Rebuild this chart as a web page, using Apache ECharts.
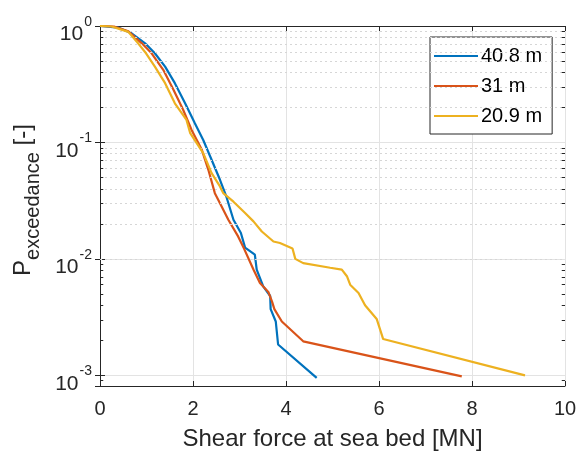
<!DOCTYPE html>
<html>
<head>
<meta charset="utf-8">
<script src="https://cdn.jsdelivr.net/npm/echarts@6/dist/echarts.min.js"></script>
<style>
  html, body { margin: 0; padding: 0; background: #fff; }
  #chart { width: 579px; height: 455px; }
</style>
</head>
<body>
<div id="chart"></div>
<script>
// ====== 海床剪力超越概率（三个水深） ======
const seriesNames = ["40.8 m", "31 m", "20.9 m"];
const seriesColors = ["#0072BD", "#D95319", "#EDB120"];

// [剪力 MN, 超越概率]
const blue408 = [
  [0, 1], [0.39, 0.97], [0.68, 0.865], [0.97, 0.71], [1.18, 0.583], [1.4, 0.448],
  [1.61, 0.323], [1.83, 0.217], [2.04, 0.146], [2.22, 0.105], [2.37, 0.0758],
  [2.58, 0.0478], [2.72, 0.034], [2.87, 0.0217], [3.03, 0.0167], [3.12, 0.0125],
  [3.33, 0.0109], [3.37, 0.0081], [3.51, 0.0058], [3.66, 0.0048], [3.67, 0.0037],
  [3.78, 0.0029], [3.83, 0.00184], [4.66, 0.00095]
];
const red31 = [
  [0, 1], [0.3, 0.99], [0.61, 0.9], [0.9, 0.71], [1.11, 0.583], [1.36, 0.42],
  [1.58, 0.283], [1.79, 0.19], [1.97, 0.128], [2.19, 0.0864], [2.33, 0.0582],
  [2.47, 0.0367], [2.58, 0.03], [2.76, 0.0217], [2.97, 0.0156], [3.1, 0.0122],
  [3.3, 0.0081], [3.44, 0.0062], [3.62, 0.0052], [3.7, 0.0043], [3.75, 0.0037],
  [3.91, 0.0029], [4.37, 0.00196], [7.78, 0.00098]
];
const yellow209 = [
  [0, 1], [0.25, 0.99], [0.61, 0.89], [0.82, 0.71], [0.99, 0.583], [1.18, 0.448],
  [1.4, 0.323], [1.61, 0.217], [1.86, 0.156], [1.94, 0.12], [2.08, 0.0986],
  [2.22, 0.081], [2.4, 0.0546], [2.58, 0.0419], [2.65, 0.0367], [2.87, 0.031],
  [3.12, 0.0248], [3.3, 0.021], [3.48, 0.0172], [3.73, 0.0141], [3.87, 0.0137],
  [4.14, 0.0123], [4.2, 0.01], [4.37, 0.0092], [4.95, 0.0084], [5.2, 0.0081],
  [5.31, 0.0071], [5.38, 0.006], [5.56, 0.0051], [5.7, 0.004], [5.95, 0.00305],
  [6.09, 0.00205], [9.14, 0.001]
];
const seriesData = [blue408, red31, yellow209];

const xTicks = { min: 0, max: 10, interval: 2 };
const yRange = { min: 0.00081, max: 1 };
// 对数轴次网格线 2..9 × 10^n
const minorYValues = [
  0.0009,
  0.002, 0.003, 0.004, 0.005, 0.006, 0.007, 0.008, 0.009,
  0.02, 0.03, 0.04, 0.05, 0.06, 0.07, 0.08, 0.09,
  0.2, 0.3, 0.4, 0.5, 0.6, 0.7, 0.8, 0.9,
];

const axisColor = "#262626";
const font = "Liberation Sans, Arial, sans-serif";

const yLabel = (v) => {
  const lg = Math.log10(v);
  const e = Math.round(lg);
  if (Math.abs(lg - e) > 1e-6) return "";
  return `{b|10}{s|${e}}`;
};

const gridLine = { show: true, lineStyle: { color: "#e3e3e3", width: 1 } };

// 次网格虚线 + 左右两侧的小刻度
const minorMarks = [];
minorYValues.forEach((v) => {
  minorMarks.push({ yAxis: v, lineStyle: { color: "#d6d6d6", width: 1, type: [2, 3] } });
  minorMarks.push([{ coord: [xTicks.min, v] }, { coord: [xTicks.min + 0.07, v] }]);
  minorMarks.push([{ coord: [xTicks.max - 0.07, v] }, { coord: [xTicks.max, v] }]);
});

const option = {
  animation: false,
  backgroundColor: "#fff",
  textStyle: { fontFamily: font },
  grid: { left: 100, right: 14, top: 26, bottom: 69, show: false, outerBoundsMode: "none", containLabel: false },
  legend: {
    orient: "vertical",
    left: 430,
    top: 37,
    padding: [9, 10, 8, 4],
    itemGap: 10,
    itemWidth: 44,
    itemHeight: 2.2,
    icon: "rect",
    backgroundColor: "#fff",
    borderColor: axisColor,
    borderWidth: 1,
    borderRadius: 0,
    textStyle: { color: "#000", fontSize: 20, lineHeight: 18, fontFamily: font, padding: [0, 0, 0, -2] },
    data: seriesNames,
  },
  xAxis: [
    {
      type: "value",
      min: xTicks.min,
      max: xTicks.max,
      interval: xTicks.interval,
      name: "Shear force at sea bed [MN]",
      nameLocation: "middle",
      nameGap: 41,
      nameTextStyle: { color: axisColor, fontSize: 24, fontFamily: font },
      axisLine: { show: true, lineStyle: { color: axisColor, width: 1 } },
      axisTick: { show: true, inside: true, length: 5, lineStyle: { color: axisColor } },
      axisLabel: { color: axisColor, fontSize: 20, margin: 13, fontFamily: font },
      splitLine: gridLine,
    },
    {
      type: "value",
      position: "top",
      min: xTicks.min,
      max: xTicks.max,
      interval: xTicks.interval,
      axisLine: { show: true, lineStyle: { color: axisColor, width: 1 } },
      axisTick: { show: true, inside: true, length: 5, lineStyle: { color: axisColor } },
      axisLabel: { show: false },
      splitLine: { show: false },
    },
  ],
  yAxis: [
    {
      type: "log",
      logBase: 10,
      min: yRange.min,
      max: yRange.max,
      name: "{p|P}{sub|exceedance}{p| [-]}",
      nameLocation: "middle",
      nameRotate: 90,
      nameGap: 57,
      nameTextStyle: {
        color: axisColor,
        padding: [0, 0, 0, 12],
        rich: {
          p: { fontSize: 24, fontFamily: font, color: axisColor, lineHeight: 32, verticalAlign: "top" },
          sub: { fontSize: 20, fontFamily: font, color: axisColor, lineHeight: 32, verticalAlign: "bottom" },
        },
      },
      axisLine: { show: true, lineStyle: { color: axisColor, width: 1 } },
      axisTick: { show: true, inside: true, length: 5, lineStyle: { color: axisColor } },
      axisLabel: {
        color: axisColor,
        margin: 8,
        formatter: yLabel,
        rich: {
          b: { fontSize: 21, fontFamily: font, color: axisColor, lineHeight: 38, verticalAlign: "bottom" },
          s: { fontSize: 14, fontFamily: font, color: axisColor, lineHeight: 38, padding: [8, 0, 0, 1], verticalAlign: "top" },
        },
      },
      splitLine: gridLine,
    },
    {
      type: "log",
      logBase: 10,
      position: "right",
      min: yRange.min,
      max: yRange.max,
      axisLine: { show: true, lineStyle: { color: axisColor, width: 1 } },
      axisTick: { show: true, inside: true, length: 5, lineStyle: { color: axisColor } },
      axisLabel: { show: false },
      splitLine: { show: false },
    },
  ],
  series: [
    {
      name: "minor",
      type: "line",
      data: [],
      z: 1,
      silent: true,
      markLine: {
        silent: true,
        symbol: "none",
        animation: false,
        label: { show: false },
        lineStyle: { color: axisColor, width: 1, type: "solid" },
        data: minorMarks,
      },
    },
    ...seriesData.map((d, i) => ({
      name: seriesNames[i],
      type: "line",
      data: d,
      symbol: "none",
      showSymbol: false,
      smooth: false,
      lineStyle: { color: seriesColors[i], width: 2.2 },
      itemStyle: { color: seriesColors[i] },
      z: 3 + i,
    })),
  ],
};

const chart = echarts.init(document.getElementById("chart"), null, { renderer: "canvas" });
chart.setOption(option);
</script>
</body>
</html>
